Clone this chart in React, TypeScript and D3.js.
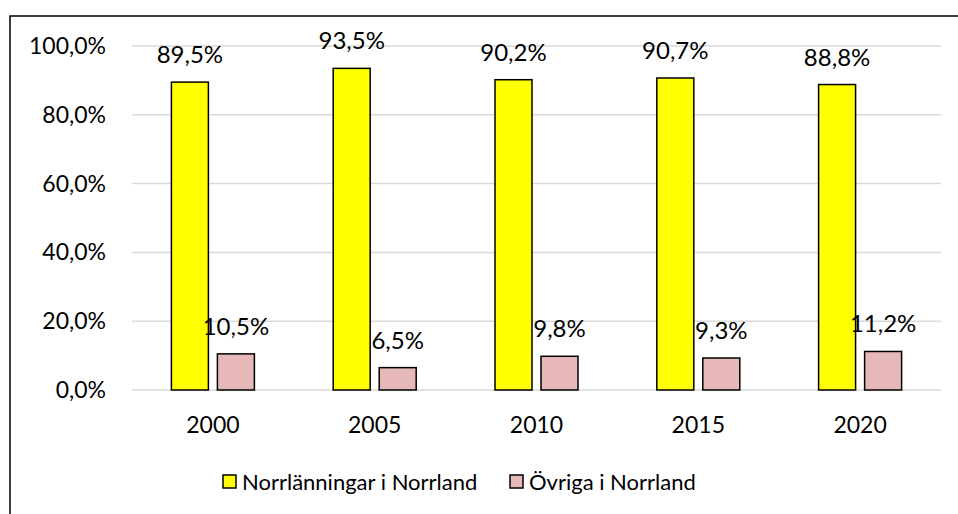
import React from "react";
import * as d3 from "d3";

const years = ["2000", "2005", "2010", "2015", "2020"];
const seriesNames = ["Norrlänningar i Norrland", "Övriga i Norrland"];
const norrlanningar = [0.895, 0.935, 0.902, 0.907, 0.888];
const ovriga = [0.105, 0.065, 0.098, 0.093, 0.112];
const yTicks = [0, 0.2, 0.4, 0.6, 0.8, 1.0];
const colors = ["#ffff00", "#e6b9b8"];

const W = 958;
const H = 514;
const font = "Lato, Carlito, Calibri, sans-serif";

const sv = d3.formatLocale({
  decimal: ",",
  thousands: " ",
  grouping: [3],
  currency: ["", " kr"],
});
const pct = sv.format(".1%");

export default function App() {
  const plot = { left: 132, right: 941, top: 46, bottom: 390 };

  const x0 = d3.scaleBand().domain(years).range([plot.left, plot.right]);
  const x1 = d3
    .scaleBand()
    .domain(seriesNames)
    .range([-41.5, 41.5])
    .paddingInner(0.196);
  const y = d3.scaleLinear().domain([0, 1]).range([plot.bottom, plot.top]);

  const series = [norrlanningar, ovriga];

  return (
    <svg
      width={W}
      height={H}
      style={{ position: "absolute", left: 0, top: 0, background: "#fff" }}
    >
      {/* ram */}
      <path d={`M10,${H + 2} V16 H${W + 2}`} fill="none" stroke="#000" strokeWidth={1.5} />

      {/* stödlinjer */}
      {yTicks.map((t) => (
        <g key={t}>
          <line
            x1={plot.left}
            x2={plot.right}
            y1={y(t)}
            y2={y(t)}
            stroke="#d9d9d9"
            strokeWidth={1.5}
          />
          <text
            x={106}
            y={y(t)}
            dy="0.35em"
            textAnchor="end"
            fontFamily={font}
            fontSize={23}
            fill="#000"
          >
            {pct(t)}
          </text>
        </g>
      ))}

      {/* staplar */}
      {series.map((vals, si) =>
        years.map((yr, i) => {
          const cx = x0(yr)! + x0.bandwidth() / 2;
          const bx = cx + x1(seriesNames[si])!;
          const bw = x1.bandwidth();
          return (
            <g key={yr + si}>
              <rect
                x={bx}
                y={y(vals[i])}
                width={bw}
                height={y(0) - y(vals[i])}
                fill={colors[si]}
                stroke="#000"
                strokeWidth={1.5}
              />
              <text
                x={bx + bw / 2}
                y={y(vals[i]) - 19}
                textAnchor="middle"
                fontFamily={font}
                fontSize={24}
                fill="#000"
              >
                {pct(vals[i])}
              </text>
            </g>
          );
        })
      )}

      {/* x-axel etiketter */}
      {years.map((yr) => (
        <text
          key={yr}
          x={x0(yr)! + x0.bandwidth() / 2}
          y={433}
          textAnchor="middle"
          fontFamily={font}
          fontSize={23}
          fill="#000"
        >
          {yr}
        </text>
      ))}

      {/* legend */}
      {seriesNames.map((name, i) => {
        const lx = i === 0 ? 223 : 510;
        return (
          <g key={name}>
            <rect
              x={lx}
              y={475}
              width={13}
              height={13}
              fill={colors[i]}
              stroke="#000"
              strokeWidth={1.5}
            />
            <text
              x={lx + 19}
              y={482}
              dy="0.35em"
              fontFamily={font}
              fontSize={22}
              fill="#000"
            >
              {name}
            </text>
          </g>
        );
      })}
    </svg>
  );
}
